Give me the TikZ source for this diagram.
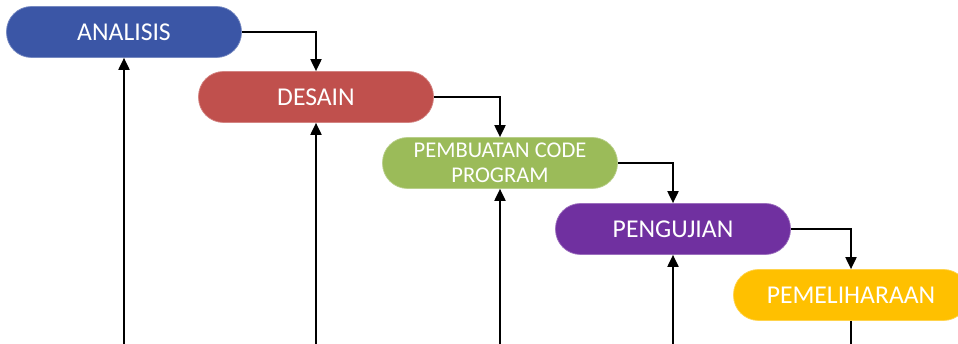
\documentclass[tikz,border=0pt]{standalone}
\usepackage{fontspec}
\setmainfont{Carlito}
\definecolor{phaseblue}{RGB}{59, 86, 166}
\definecolor{phasered}{RGB}{192, 80, 77}
\definecolor{phasegreen}{RGB}{155, 187, 89}
\definecolor{phasepurple}{RGB}{112, 48, 160}
\definecolor{phaseyellow}{RGB}{255, 192, 0}
\usetikzlibrary{arrows.meta, positioning, calc}
\tikzset{
  phasenode/.style={rectangle, rounded corners=0.5cm, fill=#1, draw=#1!70!white, line width=0.4pt, minimum width=4.7cm, minimum height=1.02cm, text=white, font=\fontsize{14.6}{17}\selectfont, align=center, inner sep=2pt},
  smalltext/.style={font=\fontsize{12.8}{14.4}\selectfont},
  flowline/.style={-{Triangle[length=2.4mm, width=2.2mm]}, line width=1.1pt, black},
  feedline/.style={line width=1.1pt, black},
}

\begin{document}
\begin{tikzpicture}
\clip (0,0) rectangle (19.16,6.88);
\coordinate (base) at (0,0);

% tahapan
\node[phasenode=phaseblue] (ana) at (2.48,6.24) {ANALISIS};
\node[phasenode=phasered] (des) at (6.32,4.94) {DESAIN};
\node[phasenode=phasegreen, smalltext] (code) at (10.0,3.62) {PEMBUATAN CODE\\PROGRAM};
\node[phasenode=phasepurple] (uji) at (13.46,2.30) {PENGUJIAN};
\node[phasenode=phaseyellow] (pel) at (17.02,0.98) {PEMELIHARAAN};

% alur ke bawah
\draw[flowline] (ana.east) -| (des.north);
\draw[flowline] (des.east) -| (code.north);
\draw[flowline] (code.east) -| (uji.north);
\draw[flowline] (uji.east) -| (pel.north);

% alur balik
\draw[flowline] (ana.south |- base) -- (ana.south);
\draw[flowline] (des.south |- base) -- (des.south);
\draw[flowline] (code.south |- base) -- (code.south);
\draw[flowline] (uji.south |- base) -- (uji.south);
\draw[feedline] (pel.south) -- (pel.south |- base);
\end{tikzpicture}
\end{document}
